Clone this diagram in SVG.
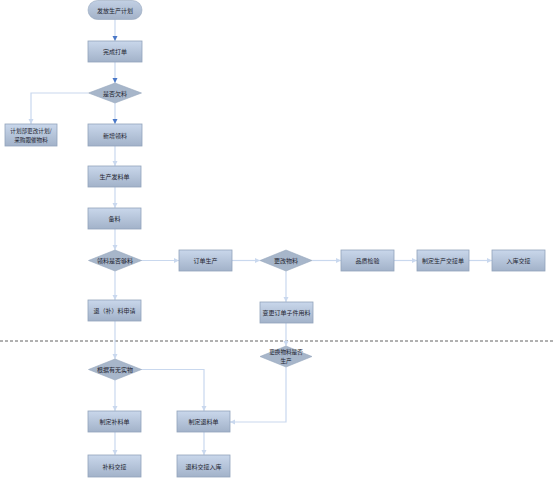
<svg xmlns="http://www.w3.org/2000/svg" width="555" height="494" viewBox="0 0 555 494">
<style>
.box{fill:url(#g);stroke:#92a3bb;stroke-width:0.8}
.dia{fill:#a7b6ca;stroke:#97a7bd;stroke-width:0.6}
.t{font-family:"Noto Sans CJK SC","Noto Sans",sans-serif;font-size:6px;fill:#1e2430;text-anchor:middle;dominant-baseline:central}
.s{font-size:5.6px}
.c{fill:none;stroke:#c9d8ee;stroke-width:1.2}
.cd{fill:none;stroke:#c9d8ee;stroke-width:1.2}
</style>
<defs>
<linearGradient id="g" x1="0" y1="0" x2="0" y2="1">
<stop offset="0" stop-color="#c9d7eb"/>
<stop offset="1" stop-color="#a2b2c9"/>
</linearGradient>
<linearGradient id="gp" x1="0" y1="0" x2="0" y2="1">
<stop offset="0" stop-color="#c2d0e4"/>
<stop offset="1" stop-color="#a3b2c8"/>
</linearGradient>
<marker id="a" markerWidth="6" markerHeight="6" refX="5" refY="3" orient="auto" markerUnits="userSpaceOnUse">
<path d="M0,0.5 L5,3 L0,5.5 Z" fill="#c9d8ee"/>
</marker>
<marker id="ad" markerWidth="6" markerHeight="6" refX="5" refY="3" orient="auto" markerUnits="userSpaceOnUse">
<path d="M0,0.5 L5,3 L0,5.5 Z" fill="#4a78c8"/>
</marker>
</defs>
<rect width="555" height="494" fill="#ffffff"/>
<line x1="0" y1="341" x2="553" y2="341" stroke="#3a3a3a" stroke-width="0.8" stroke-dasharray="3,2"/>
<g id="connectors">
<path class="cd" d="M115,19 V41" marker-end="url(#ad)"/>
<path class="cd" d="M115,62 V83" marker-end="url(#ad)"/>
<path class="cd" d="M115,103 V124" marker-end="url(#ad)"/>
<path class="c" d="M88,93 H31 V124" marker-end="url(#a)"/>
<path class="c" d="M115,146 V166" marker-end="url(#a)"/>
<path class="c" d="M115,187 V208" marker-end="url(#a)"/>
<path class="c" d="M115,229 V250" marker-end="url(#a)"/>
<path class="c" d="M141,260.5 H179" marker-end="url(#a)"/>
<path class="c" d="M232,260.5 H260" marker-end="url(#a)"/>
<path class="c" d="M312,260.5 H341" marker-end="url(#a)"/>
<path class="c" d="M394,260.5 H417" marker-end="url(#a)"/>
<path class="c" d="M469,260.5 H492" marker-end="url(#a)"/>
<path class="c" d="M286,271 V302" marker-end="url(#a)"/>
<path class="c" d="M115,271 V300" marker-end="url(#a)"/>
<path class="c" d="M115,321 V359" marker-end="url(#a)"/>
<path class="c" d="M286,323 V346" marker-end="url(#a)"/>
<path class="c" d="M141,369.5 H204 V411" marker-end="url(#a)"/>
<path class="c" d="M115,380 V411" marker-end="url(#a)"/>
<path class="c" d="M115,432 V455" marker-end="url(#a)"/>
<path class="c" d="M204,432 V455" marker-end="url(#a)"/>
<path class="c" d="M286,367 V422 H230" marker-end="url(#a)"/>
</g>
<g id="n1"><rect x="88" y="0.5" width="54" height="19" rx="9.5" fill="url(#gp)" stroke="#97a7bd" stroke-width="0.6"/><text class="t" x="115" y="10">发放生产计划</text></g>
<g id="n2"><rect class="box" x="88" y="41" width="54" height="21"/><text class="t" x="115" y="51.5">完成打单</text></g>
<g id="n3"><polygon class="dia" points="115,83 141.5,93 115,103 88.5,93"/><text class="t" x="115" y="93">是否欠料</text></g>
<g id="n4"><rect class="box" x="5" y="124" width="52" height="22"/><text class="t s" x="31" y="130.5">计划部更改计划/</text><text class="t s" x="31" y="139.5">采购跟催物料</text></g>
<g id="n5"><rect class="box" x="88" y="124" width="54" height="22"/><text class="t" x="115" y="135">新增领料</text></g>
<g id="n6"><rect class="box" x="88" y="166" width="53" height="21"/><text class="t" x="114.5" y="176.5">生产发料单</text></g>
<g id="n7"><rect class="box" x="88" y="208" width="53" height="21"/><text class="t" x="114.5" y="218.5">备料</text></g>
<g id="n8"><polygon class="dia" points="115,250 141.5,260.5 115,271 88.5,260.5"/><text class="t" x="115" y="260.5">领料是否够料</text></g>
<g id="n9"><rect class="box" x="179" y="250" width="53" height="21"/><text class="t" x="205.5" y="260.5">订单生产</text></g>
<g id="n10"><polygon class="dia" points="286,250 312,260.5 286,271 260,260.5"/><text class="t" x="286" y="260.5">更改物料</text></g>
<g id="n11"><rect class="box" x="341" y="250" width="53" height="21"/><text class="t" x="367.5" y="260.5">品质检验</text></g>
<g id="n12"><rect class="box" x="417" y="250" width="52" height="21"/><text class="t" x="443" y="260.5">制定生产交接单</text></g>
<g id="n13"><rect class="box" x="492" y="250" width="53" height="21"/><text class="t" x="518.5" y="260.5">入库交接</text></g>
<g id="n14"><rect class="box" x="260" y="302" width="53" height="21"/><text class="t" x="286.5" y="312.5">变更订单子件用料</text></g>
<g id="n15"><rect class="box" x="88" y="300" width="53" height="21"/><text class="t" x="114.5" y="310.5">退（补）料申请</text></g>
<g id="n16"><polygon class="dia" points="115,359 141.5,369.5 115,380 88.5,369.5"/><text class="t" x="115" y="369.5">根据有无实物</text></g>
<g id="n17"><polygon class="dia" points="286,346 312,356.5 286,367 260,356.5"/><text class="t s" x="286" y="352">更换物料是否</text><text class="t s" x="286" y="361">生产</text></g>
<g id="n18"><rect class="box" x="88" y="411" width="53" height="21"/><text class="t" x="114.5" y="421.5">制定补料单</text></g>
<g id="n19"><rect class="box" x="177" y="411" width="53" height="21"/><text class="t" x="203.5" y="421.5">制定退料单</text></g>
<g id="n20"><rect class="box" x="88" y="455" width="53" height="22"/><text class="t" x="114.5" y="466">补料交接</text></g>
<g id="n21"><rect class="box" x="177" y="455" width="53" height="22"/><text class="t" x="203.5" y="466">退料交接入库</text></g>
</svg>
